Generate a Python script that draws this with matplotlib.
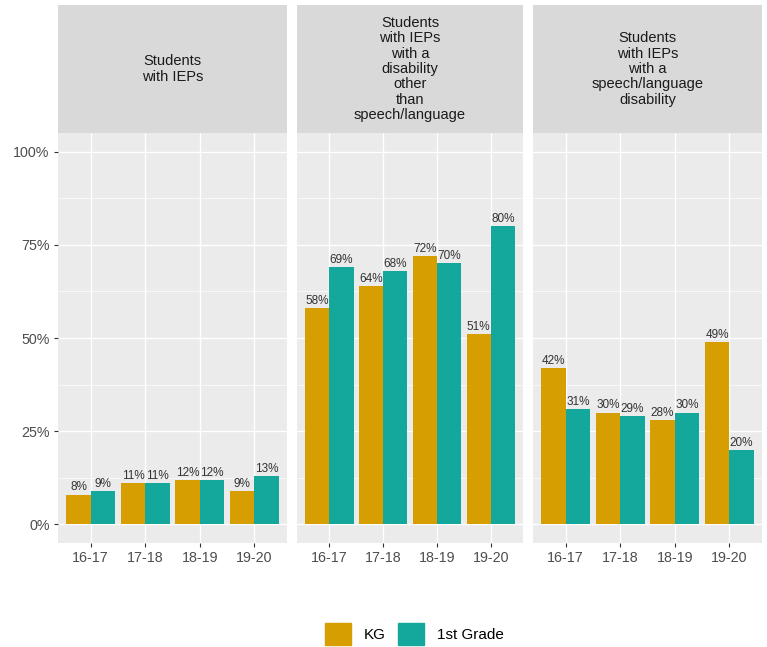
import matplotlib.pyplot as plt
import numpy as np

# ---------- data ----------
years = ['16-17', '17-18', '18-19', '19-20']
facets = ['Students\nwith IEPs',
          'Students\nwith IEPs\nwith a\ndisability\nother\nthan\nspeech/language',
          'Students\nwith IEPs\nwith a\nspeech/language\ndisability']
kg = [[8, 11, 12, 9], [58, 64, 72, 51], [42, 30, 28, 49]]
first_grade = [[9, 11, 12, 13], [69, 68, 70, 80], [31, 29, 30, 20]]
series_names = ['KG', '1st Grade']
colors = ['#D69E00', '#13A89B']

W, H = 767, 647
fig = plt.figure(figsize=(W / 100, H / 100), dpi=100)
plt.rcParams['font.family'] = ['Liberation Sans', 'DejaVu Sans']

panels_px = [(58, 287), (297, 523), (533, 762)]
top_px, bot_px, strip_top_px = 133, 543, 5
x = np.arange(len(years))
bw = 0.45

for k, (l, r) in enumerate(panels_px):
    ax = fig.add_axes([l / W, 1 - bot_px / H, (r - l) / W, (bot_px - top_px) / H])
    ax.set_facecolor('#EBEBEB')
    ax.set_xlim(-0.6, 3.6)
    ax.set_ylim(-5, 105)
    for yv in [12.5, 37.5, 62.5, 87.5]:
        ax.axhline(yv, color='white', lw=0.5, zorder=0)
    for yv in [0, 25, 50, 75, 100]:
        ax.axhline(yv, color='white', lw=1.0, zorder=0)
    for xv in x:
        ax.axvline(xv, color='white', lw=1.0, zorder=0)
    for s, vals in enumerate([kg[k], first_grade[k]]):
        xs = x + (s - 0.5) * bw
        ax.bar(xs, vals, width=bw, color=colors[s], zorder=2, label=series_names[s])
        for xi, v in zip(xs, vals):
            ax.text(xi, v + 0.3, f'{v}%', ha='center', va='bottom', fontsize=8.5,
                    color='#333333', zorder=3)
    for sp in ax.spines.values():
        sp.set_visible(False)
    ax.set_xticks(x)
    ax.set_xticklabels(years, fontsize=10.3, color='#4D4D4D')
    ax.set_yticks([0, 25, 50, 75, 100])
    if k == 0:
        ax.set_yticklabels(['0%', '25%', '50%', '75%', '100%'], fontsize=10.3, color='#4D4D4D')
    else:
        ax.tick_params(axis='y', left=False, labelleft=False)
    ax.tick_params(length=3, color='#333333', width=0.8, pad=3)

    sax = fig.add_axes([l / W, 1 - top_px / H, (r - l) / W, (top_px - strip_top_px) / H])
    sax.set_facecolor('#D9D9D9')
    sax.set_xticks([])
    sax.set_yticks([])
    for sp in sax.spines.values():
        sp.set_visible(False)
    sax.text(0.5, 0.5, facets[k], ha='center', va='center', fontsize=10.5,
             color='#1A1A1A', linespacing=1.12, transform=sax.transAxes)

# ---------- legend ----------
handles = [plt.Rectangle((0, 0), 1, 1, color=c) for c in colors]
fig.legend(handles, series_names, loc='center', bbox_to_anchor=(414 / W, 1 - 634 / H),
           ncol=2, frameon=False, fontsize=11, handlelength=1.75, handleheight=1.75,
           columnspacing=0.8, handletextpad=0.8, borderpad=0.0, borderaxespad=0.0)

fig.savefig('out.png', dpi=100)
